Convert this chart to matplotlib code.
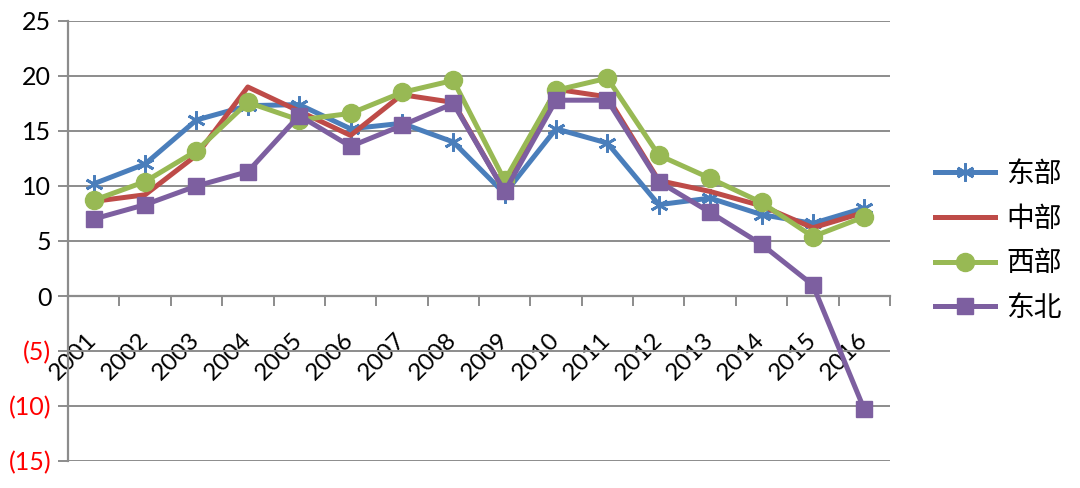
import numpy as np
import matplotlib
matplotlib.use("Agg")
import matplotlib.pyplot as plt

plt.rcParams['font.family'] = ['Lato', 'Noto Sans CJK SC', 'DejaVu Sans']

years = [str(y) for y in range(2001, 2017)]
east = [10.2, 12.0, 16.0, 17.3, 17.4, 15.2, 15.7, 14.0, 9.3, 15.2, 13.9, 8.3, 8.9, 7.4, 6.6, 8.0]
central = [8.6, 9.2, 12.8, 19.0, 16.8, 14.6, 18.3, 17.6, 9.5, 18.8, 18.1, 10.5, 9.5, 8.2, 6.2, 7.6]
west = [8.7, 10.4, 13.2, 17.6, 16.0, 16.6, 18.5, 19.6, 10.5, 18.7, 19.8, 12.8, 10.7, 8.5, 5.4, 7.2]
northeast = [7.0, 8.3, 10.0, 11.3, 16.4, 13.6, 15.5, 17.5, 9.5, 17.8, 17.8, 10.4, 7.6, 4.7, 1.0, -10.3]
names = ['东部', '中部', '西部', '东北']

y_ticks = [25, 20, 15, 10, 5, 0, -5, -10, -15]
y_labels = ['25', '20', '15', '10', '5', '0', '(5)', '(10)', '(15)']

grid_c = '#8c8c8c'

fig = plt.figure(figsize=(10.8, 4.88), dpi=100)
ax = fig.add_axes([0.063, 0.0553, 0.761, 0.9017])

x = np.arange(len(years))
ax.plot(x, east, color='#4A7EBB', lw=3.6, marker=(6, 2, 0), ms=13, mew=2,
        label=names[0], zorder=3)
ax.plot(x, central, color='#BE4B48', lw=3.6, label=names[1], zorder=4)
ax.plot(x, west, color='#98B954', lw=3.6, marker='o', ms=13, label=names[2], zorder=5)
ax.plot(x, northeast, color='#7D5FA0', lw=3.6, marker='s', ms=12, label=names[3], zorder=6)

ax.set_xlim(-0.5, len(years) - 0.5)
ax.set_ylim(-15, 25)

# spines first: moving a spine resets the tick styling
for s in ['top', 'right']:
    ax.spines[s].set_visible(False)
ax.spines['bottom'].set_position(('data', 0))
ax.spines['bottom'].set_color(grid_c)
ax.spines['bottom'].set_linewidth(1.6)
ax.spines['left'].set_color(grid_c)
ax.spines['left'].set_linewidth(1.6)

ax.set_yticks(y_ticks)
ax.set_yticklabels(y_labels, fontsize=18)
for lab, v in zip(ax.get_yticklabels(), y_ticks):
    lab.set_color('red' if v < 0 else 'black')
ax.yaxis.grid(True, color=grid_c, lw=1.4, zorder=0)
ax.tick_params(axis='y', length=7, width=1.4, color=grid_c, pad=5)

# labels on major ticks at category centres, boundary marks as minor ticks
ax.set_xticks(x)
ax.set_xticklabels(years, fontsize=17.5, rotation=45, ha='right', va='center',
                   rotation_mode='anchor')
ax.tick_params(axis='x', which='major', length=0, pad=29)
ax.set_xticks(np.arange(-0.5, len(years), 1.0), minor=True)
ax.tick_params(axis='x', which='minor', length=7, width=1.4, color=grid_c, direction='out')

fig.legend(loc='center left', bbox_to_anchor=(0.843, 0.506), frameon=False,
           fontsize=20, handlelength=2.15, labelspacing=0.67, handletextpad=0.4)

fig.savefig('out.png', dpi=100)
